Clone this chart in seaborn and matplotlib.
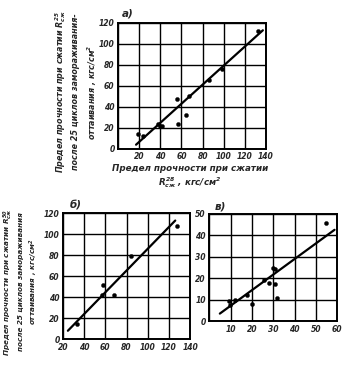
import numpy as np
import pandas as pd
import matplotlib
matplotlib.use("Agg")
import matplotlib.pyplot as plt
import seaborn as sns

# ---- données ----
# a) 28 jours vs après 25 cycles
a_x = [19, 24, 38, 40, 42, 56, 57, 64, 67, 86, 98, 132]
a_y = [14, 12, 24, 22, 22, 48, 24, 32, 50, 66, 76, 112]
a_line_x = [17, 137]
a_line_y = [4, 113]

# б)
b_x = [33, 57.5, 57, 68, 84, 128]
b_y = [14, 52, 42, 42, 79, 108]
b_line_x = [24.6, 126]
b_line_y = [8, 113]

# в)
c_x = [9.5, 9.8, 12.2, 17.8, 20, 25.7, 28, 29.7, 31, 31, 31.7, 54.6]
c_y = [9.5, 7.4, 10, 12, 8.2, 19, 18, 24.8, 24.3, 17.4, 10.9, 46]
c_line_x = [5, 58.7]
c_line_y = [3.5, 42.6]

sns.set_style("white")
plt.rcParams['font.family'] = ['DejaVu Sans']
plt.rcParams['font.style'] = 'italic'
plt.rcParams['font.weight'] = 'bold'

fig = plt.figure(figsize=(3.6, 3.76), dpi=100)

ax_a = fig.add_axes([0.328, 0.604, 0.411, 0.335])
ax_b = fig.add_axes([0.175, 0.098, 0.353, 0.335])
ax_c = fig.add_axes([0.581, 0.146, 0.356, 0.285])


def draw(ax, x, y, lx, ly, xlim, ylim, xticks, yticks, xlabels):
    df = pd.DataFrame({"x": x, "y": y})
    sns.scatterplot(data=df, x="x", y="y", ax=ax, color="black", s=9,
                    edgecolor="black", zorder=3)
    sns.lineplot(x=lx, y=ly, ax=ax, color="black", lw=1.6, zorder=3)
    ax.set_xlim(*xlim)
    ax.set_ylim(*ylim)
    ax.set_xticks(xticks)
    ax.set_xticklabels(xlabels)
    ax.set_yticks(yticks)
    ax.grid(True, color="black", lw=1.0)
    ax.set_axisbelow(True)
    ax.tick_params(length=0, labelsize=5.5, pad=2.5)
    for s in ax.spines.values():
        s.set_color("black")
        s.set_linewidth(1.4)
    ax.set_xlabel("")
    ax.set_ylabel("")


xt = [0, 20, 40, 60, 80, 100, 120, 140]
draw(ax_a, a_x, a_y, a_line_x, a_line_y, (0, 140), (0, 120),
     xt, [0, 20, 40, 60, 80, 100, 120], [""] + [str(v) for v in xt[1:]])

xt_b = [20, 40, 60, 80, 100, 120, 140]
draw(ax_b, b_x, b_y, b_line_x, b_line_y, (20, 140), (0, 120),
     xt_b, [0, 20, 40, 60, 80, 100, 120], [str(v) for v in xt_b])

xt_c = [0, 10, 20, 30, 40, 50, 60]
draw(ax_c, c_x, c_y, c_line_x, c_line_y, (0, 60), (0, 50),
     xt_c, [0, 10, 20, 30, 40, 50], [""] + [str(v) for v in xt_c[1:]])

# repères des sous-graphiques
fig.text(122 / 360, 1 - 13 / 376, "а)", fontsize=7.5, ha="left", va="center")
fig.text(70 / 360, 1 - 205 / 376, "б)", fontsize=7.5, ha="left", va="center")
fig.text(215 / 360, 1 - 207 / 376, "в)", fontsize=7.5, ha="left", va="center")

# légendes des axes
fig.text(76 / 360, 1 - 92 / 376,
         "Предел прочности при сжатии $R_{сж}^{25}$\n"
         "после 25 циклов замораживания-\n"
         "оттаивания , кгс/см$^2$",
         rotation=90, ha="center", va="center", fontsize=5.8,
         linespacing=1.5)
fig.text(190 / 360, 1 - 177 / 376,
         "Предел прочности при сжатии\n$R_{сж}^{28}$ , кгс/см$^2$",
         ha="center", va="center", fontsize=6.3, linespacing=1.15)
fig.text(21 / 360, 1 - 282 / 376,
         "Предел прочности при сжатии $R_{сж}^{50}$\n"
         "после 25 циклов замораживания\n"
         "оттаивания , кгс/см$^2$",
         rotation=90, ha="center", va="center", fontsize=5.2,
         linespacing=1.5)

fig.savefig("out.png", dpi=100)
